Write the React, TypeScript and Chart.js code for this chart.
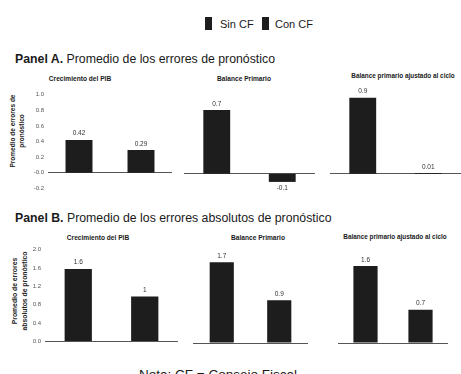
import React, { useEffect, useRef } from "react";
import { Chart, registerables } from "chart.js";
Chart.register(...registerables);

// ---------- data ----------
const categories = ["Sin CF", "Con CF"];
const seriesNames = ["Sin CF", "Con CF"];

const panelATitle = "Promedio de los errores de pronóstico";
const panelBTitle = "Promedio de los errores absolutos de pronóstico";
const subTitles = ["Crecimiento del PIB", "Balance Primario", "Balance primario ajustado al ciclo"];
const panelAAxisTitle = ["Promedio de errores de", "pronóstico"];
const panelBAxisTitle = ["Promedio de errores", "absolutos de pronóstico"];

const aPib = [0.42, 0.29];
const aPibText = ["0.42", "0.29"];
const aBalance = [0.79, -0.1];
const aBalanceText = ["0.7", "-0.1"];
const aAjustado = [0.94, 0.01];
const aAjustadoText = ["0.9", "0.01"];

const bPib = [1.58, 0.98];
const bPibText = ["1.6", "1"];
const bBalance = [1.7, 0.9];
const bBalanceText = ["1.7", "0.9"];
const bAjustado = [1.62, 0.7];
const bAjustadoText = ["1.6", "0.7"];

const panelATicks = { min: -0.2, max: 1.0, step: 0.2 };
const panelBTicks = { min: 0, max: 2.0, step: 0.4 };

const noteText = "Nota: CF = Consejo Fiscal";

// ---------- style ----------
const FONT = "'Liberation Sans', Arial, sans-serif";
const BAR = "#1d1d1d";
const PAD = 6;

const valueLabelPlugin = {
  id: "valueLabels",
  afterDatasetsDraw(chart: any) {
    const opts = chart.options.plugins.valueLabels || {};
    const texts: string[] = opts.texts || [];
    const ctx = chart.ctx;
    const meta = chart.getDatasetMeta(0);
    const data = chart.data.datasets[0].data as number[];
    ctx.save();
    ctx.font = `6.5px ${FONT}`;
    ctx.fillStyle = "#333";
    ctx.textAlign = "center";
    meta.data.forEach((bar: any, i: number) => {
      const v = data[i];
      if (v >= 0) {
        ctx.textBaseline = "bottom";
        ctx.fillText(texts[i], bar.x, bar.y - 3);
      } else {
        ctx.textBaseline = "top";
        ctx.fillText(texts[i], bar.x, bar.y + 3);
      }
    });
    ctx.restore();
  },
};

type PanelProps = {
  left: number;
  plotTop: number;
  plotBottom: number;
  plotLeft: number;
  plotRight: number;
  values: number[];
  texts: string[];
  range: { min: number; max: number; step: number };
  showAxis: boolean;
  barPct: number;
};

function BarPanel(p: PanelProps) {
  const ref = useRef<HTMLCanvasElement>(null);
  const axisW = p.showAxis ? p.plotLeft - p.left : 0;
  const canvasLeft = p.showAxis ? p.left : p.plotLeft;
  const width = p.plotRight - canvasLeft;
  const top = p.plotTop - PAD;
  const height = p.plotBottom + PAD - top;
  useEffect(() => {
    if (!ref.current) return;
    const chart = new Chart(ref.current, {
      type: "bar",
      data: {
        labels: categories,
        datasets: [
          {
            label: seriesNames.join(" / "),
            data: p.values,
            backgroundColor: BAR,
            borderWidth: 0,
            barPercentage: p.barPct,
            categoryPercentage: 1,
          },
        ],
      },
      options: {
        responsive: false,
        animation: false,
        devicePixelRatio: 1,
        layout: { padding: { top: PAD, bottom: PAD, left: 0, right: 0 } },
        plugins: {
          legend: { display: false },
          tooltip: { enabled: false },
          // @ts-ignore
          valueLabels: { texts: p.texts },
        },
        scales: {
          x: { display: false },
          y: {
            min: p.range.min,
            max: p.range.max,
            ticks: {
              display: p.showAxis,
              stepSize: p.range.step,
              font: { family: FONT, size: 6 },
              color: "#555",
              padding: 4,
              callback: (v: any) => Number(v).toFixed(1),
            },
            grid: {
              drawTicks: false,
              lineWidth: 1,
              color: (c: any) => (Math.abs(c.tick.value) < 1e-9 ? "#555" : "rgba(0,0,0,0)"),
            },
            border: { display: false },
            title: { display: false },
            afterFit: (s: any) => {
              s.width = axisW;
            },
          },
        },
      },
      plugins: [valueLabelPlugin as any],
    });
    return () => chart.destroy();
  }, []);
  return (
    <canvas
      ref={ref}
      width={width}
      height={height}
      style={{ position: "absolute", left: canvasLeft, top, width, height }}
    />
  );
}

function Txt(props: { x: number; y: number; size: number; bold?: boolean; center?: boolean; children: any }) {
  return (
    <div
      style={{
        position: "absolute",
        left: props.x,
        top: props.y - props.size / 2,
        fontSize: props.size,
        lineHeight: 1,
        fontWeight: props.bold ? "bold" : "normal",
        fontFamily: FONT,
        color: "#1a1a1a",
        whiteSpace: "nowrap",
        transform: props.center ? "translateX(-50%)" : undefined,
      }}
    >
      {props.children}
    </div>
  );
}

function VTitle(props: { cx: number; cy: number; size: number; lines: string[] }) {
  return (
    <div
      style={{
        position: "absolute",
        left: props.cx,
        top: props.cy,
        transform: "translate(-50%, -50%) rotate(-90deg)",
        fontSize: props.size,
        lineHeight: 1.4,
        fontWeight: "bold",
        fontFamily: FONT,
        color: "#222",
        textAlign: "center",
        whiteSpace: "nowrap",
      }}
    >
      {props.lines.map((l, i) => (
        <div key={i}>{l}</div>
      ))}
    </div>
  );
}

export default function App() {
  return (
    <div
      style={{
        position: "fixed",
        left: 0,
        top: 0,
        width: 461,
        height: 374,
        overflow: "hidden",
        background: "#fff",
      }}
    >
      {/* legend */}
      <div style={{ position: "absolute", left: 205, top: 17, width: 7, height: 13, background: BAR }} />
      <Txt x={220} y={24} size={11}>{seriesNames[0]}</Txt>
      <div style={{ position: "absolute", left: 262, top: 17, width: 7, height: 13, background: BAR }} />
      <Txt x={275} y={24} size={11}>{seriesNames[1]}</Txt>

      {/* Panel A */}
      <Txt x={15} y={59} size={12.3}>
        <b>Panel A.</b> {panelATitle}
      </Txt>
      <Txt x={80} y={79} size={6.6} bold center>{subTitles[0]}</Txt>
      <Txt x={244} y={79} size={6.6} bold center>{subTitles[1]}</Txt>
      <Txt x={403} y={76} size={6.4} bold center>{subTitles[2]}</Txt>
      <VTitle cx={16.5} cy={131} size={6.5} lines={panelAAxisTitle} />
      <BarPanel left={0} plotLeft={48} plotRight={172} plotTop={93} plotBottom={190} values={aPib} texts={aPibText} range={panelATicks} showAxis barPct={0.435} />
      <BarPanel left={0} plotLeft={184} plotRight={315} plotTop={93} plotBottom={190} values={aBalance} texts={aBalanceText} range={panelATicks} showAxis={false} barPct={0.41} />
      <BarPanel left={0} plotLeft={330} plotRight={461} plotTop={93} plotBottom={190} values={aAjustado} texts={aAjustadoText} range={panelATicks} showAxis={false} barPct={0.41} />

      {/* Panel B */}
      <Txt x={15} y={218} size={12.3}>
        <b>Panel B.</b> {panelBTitle}
      </Txt>
      <Txt x={98} y={238} size={6.6} bold center>{subTitles[0]}</Txt>
      <Txt x={258} y={238} size={6.6} bold center>{subTitles[1]}</Txt>
      <Txt x={395} y={237} size={6.4} bold center>{subTitles[2]}</Txt>
      <VTitle cx={20} cy={291} size={6.8} lines={panelBAxisTitle} />
      <BarPanel left={0} plotLeft={45} plotRight={178} plotTop={248} plotBottom={343} values={bPib} texts={bPibText} range={panelBTicks} showAxis barPct={0.41} />
      <BarPanel left={0} plotLeft={193} plotRight={308} plotTop={248} plotBottom={343} values={bBalance} texts={bBalanceText} range={panelBTicks} showAxis={false} barPct={0.42} />
      <BarPanel left={0} plotLeft={338} plotRight={448} plotTop={248} plotBottom={343} values={bAjustado} texts={bAjustadoText} range={panelBTicks} showAxis={false} barPct={0.44} />

      {/* note */}
      <Txt x={218} y={375} size={13.5} center>{noteText}</Txt>
    </div>
  );
}
